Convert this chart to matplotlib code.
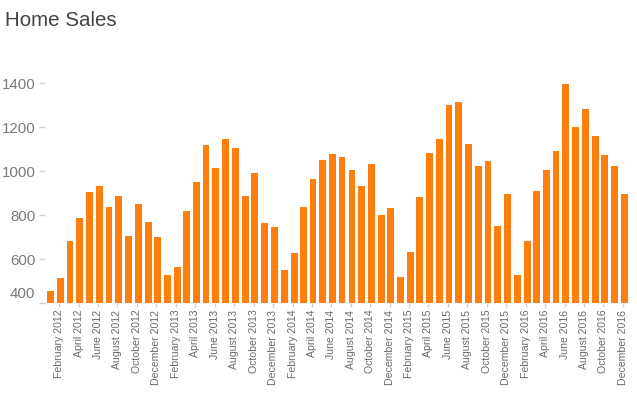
import matplotlib
matplotlib.use("Agg")
import matplotlib.pyplot as plt
import matplotlib.dates as mdates
import matplotlib.transforms as mtransforms
import pandas as pd
import numpy as np

months = pd.date_range("2012-01-01", periods=60, freq="MS")
sales = [457, 515, 683, 788, 906, 933, 838, 888, 706, 851, 770, 701,
         529, 565, 820, 951, 1120, 1015, 1147, 1106, 888, 992, 765, 747,
         551, 629, 838, 965, 1051, 1079, 1065, 1006, 933, 1033, 801, 833,
         520, 633, 883, 1083, 1147, 1301, 1315, 1124, 1024, 1047, 751, 897,
         529, 683, 910, 1006, 1092, 1397, 1201, 1283, 1160, 1074, 1024, 897]
tick_dates = months[1::2]
tick_labels = [d.strftime("%B %Y") for d in tick_dates]
y_ticks = [400, 600, 800, 1000, 1200, 1400]
title = "Home Sales"

plt.rcParams['font.family'] = ['Liberation Sans', 'DejaVu Sans']

W, H = 637, 404
fig = plt.figure(figsize=(W / 100, H / 100), dpi=100)
left, right, top, bottom = 45, 630, 61.3, 303.3
ax = fig.add_axes([left / W, 1 - bottom / H, (right - left) / W, (bottom - top) / H])

xnum = mdates.date2num(months.to_pydatetime())
ax.bar(xnum - 6.5, np.array(sales) - 400, bottom=400, width=21.5, align='edge',
       color='#ff7f0e', linewidth=0)

ax.set_ylim(400, 1500)
ax.set_xlim(mdates.date2num(pd.Timestamp("2011-12-18")), mdates.date2num(pd.Timestamp("2016-12-23")))

ax.set_yticks(y_ticks)
ax.set_yticklabels([str(v) for v in y_ticks])
ax.set_xticks(mdates.date2num(tick_dates.to_pydatetime()))
ax.set_xticklabels(tick_labels, rotation=90, ha='center', va='top')

for s in ax.spines.values():
    s.set_visible(False)

ax.tick_params(axis='y', length=4, width=1, color='#d0d0d0', labelsize=10.8,
               labelcolor='#7a7a7a', pad=3)
ax.tick_params(axis='x', length=3, width=1, color='#d0d0d0', labelsize=7.6,
               labelcolor='#6a6a6a', pad=1.5)

for t in ax.yaxis.get_major_ticks():
    if abs(t.get_loc() - 400) < 1e-6:
        t.label1.set_va('bottom')
        t.label1.set_transform(t.label1.get_transform() +
                               mtransforms.ScaledTranslation(0, 2 / 100, fig.dpi_scale_trans))

fig.text(5 / W, 1 - 21 / H, title, fontsize=14.8, color='#444444', ha='left', va='center')

fig.savefig("out.png", dpi=100)
